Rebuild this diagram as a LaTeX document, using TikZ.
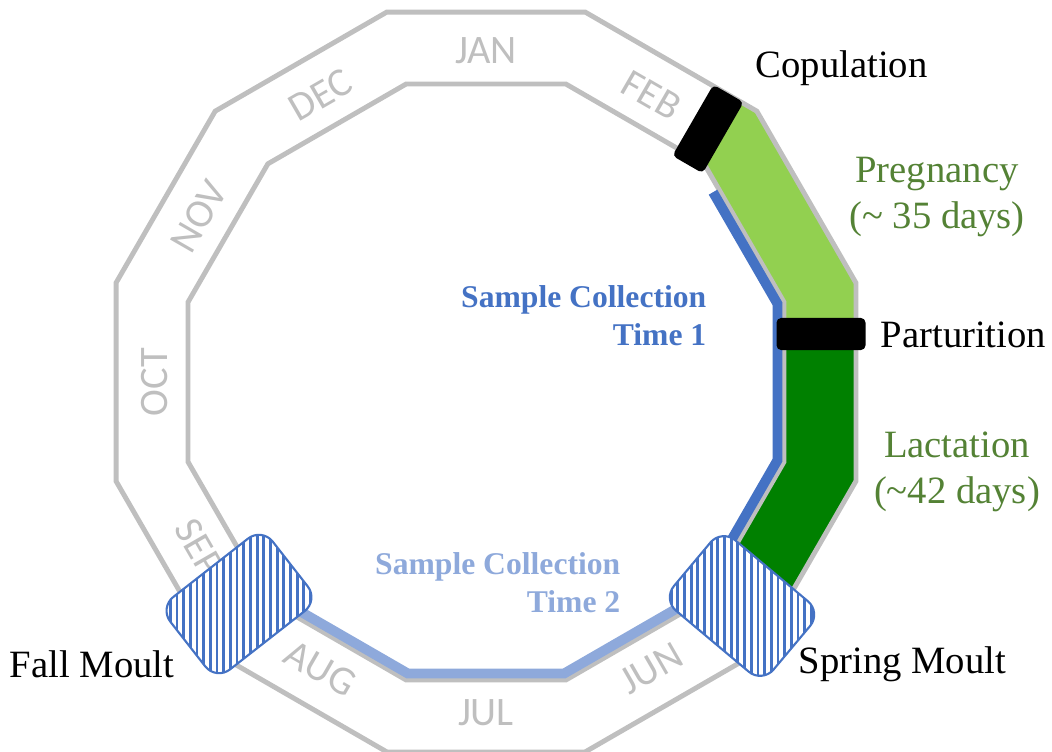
\documentclass[tikz,border=0pt]{standalone}
\usepackage{fontspec}
\setmainfont{Liberation Serif}
\newfontfamily\monthfont{Carlito}
\usetikzlibrary{patterns}
\definecolor{ringgray}{RGB}{191,191,191}
\definecolor{pregreen}{RGB}{146,208,80}
\definecolor{lacgreen}{RGB}{0,128,0}
\definecolor{txtgreen}{RGB}{84,130,53}
\definecolor{sampblue}{RGB}{68,114,196}
\definecolor{lightblue}{RGB}{142,169,219}
\pgfdeclarepatternformonly{thin vlines}{\pgfqpoint{-0.5pt}{-0.5pt}}{\pgfqpoint{2.4pt}{2.4pt}}{\pgfqpoint{1.9pt}{1.9pt}}{%
  \pgfsetlinewidth{0.8pt}\pgfpathmoveto{\pgfqpoint{0.95pt}{-0.5pt}}\pgfpathlineto{\pgfqpoint{0.95pt}{2.4pt}}\pgfusepath{stroke}}
\tikzset{
  ring/.style={draw=ringgray, line width=1.4pt},
  month/.style={font=\monthfont\fontsize{11.5}{13}\selectfont, text=ringgray, inner sep=0pt},
  sampline/.style={line width=2.8pt},
  bar/.style={fill=black, rounded corners=1.3pt, inner sep=0pt},
  moult/.style={draw=sampblue, line width=0.6pt, preaction={fill=white}, pattern=thin vlines, pattern color=sampblue,
    rounded corners=5pt, minimum width=1.3cm, minimum height=0.92cm, inner sep=0pt},
  lab/.style={font=\fontsize{11}{13}\selectfont, inner sep=0pt},
  samp/.style={font=\bfseries\fontsize{9}{10.8}\selectfont, align=right, inner sep=0pt}
}
\begin{document}
\begin{tikzpicture}
\useasboundingbox (-4.86,-3.69) rectangle (5.66,3.82);
% stages
\fill[pregreen] (2.42,2.88) -- (45:3.83) -- (15:3.83) -- (3.70,0.48) -- (2.98,0.48) -- (15:3.085) -- (45:3.085) -- (2.06,2.25) -- cycle;
\fill[lacgreen] (3.70,0.48) -- (-15:3.83) -- (-40:3.757) -- (-40:3.026) -- (-15:3.085) -- (2.98,0.48) -- cycle;
% year ring
\draw[ring] (15:3.83) \foreach \a in {45,75,...,345} {-- (\a:3.83)} -- cycle;
\draw[ring] (15:3.085) \foreach \a in {45,75,...,345} {-- (\a:3.085)} -- cycle;
\foreach \m/\ang/\rot in {JAN/90/0, FEB/60/-30, DEC/120/30, NOV/150/60, OCT/180/90, SEP/210/-60, AUG/240/-30, JUL/270/0, JUN/300/30}
  \node[month, rotate=\rot] (m-\m) at (\ang:3.31) {\m};
% sampling
\draw[sampline, sampblue] (39.9:2.959) -- (15:3.018) -- (-15:3.018) -- (-38:2.944);
\draw[sampline, lightblue] (-133:2.992) -- (-105:3.018) -- (-75:3.018) -- (-47:2.992);
\node[moult, rotate=38] (fall) at (-2.47,-2.22) {};
\node[moult, rotate=-40] (spring) at (2.56,-2.24) {};
\node[bar, rotate=60, minimum width=0.82cm, minimum height=0.35cm] (copbar) at (2.22,2.53) {};
\node[bar, minimum width=0.89cm, minimum height=0.32cm] (partbar) at (3.35,0.48) {};
% labels
\node[lab, anchor=west] (cop) at (2.69,3.14) {Copulation};
\node[lab, text=txtgreen, align=center] (preg) at (4.51,1.85) {Pregnancy\\(\textasciitilde{} 35 days)};
\node[lab, anchor=west] (part) at (3.94,0.47) {Parturition};
\node[lab, text=txtgreen, align=center] (lac) at (4.71,-0.90) {Lactation\\(\textasciitilde{}42 days)};
\node[lab, anchor=west] (springlab) at (3.12,-2.82) {Spring Moult};
\node[lab, anchor=east] (falllab) at (-3.11,-2.82) {Fall Moult};
\node[samp, text=sampblue, anchor=east] (time1) at (2.21,0.66) {Sample Collection\\Time 1};
\node[samp, text=lightblue, anchor=east] (time2) at (1.35,-2.01) {Sample Collection\\Time 2};
\end{tikzpicture}
\end{document}
